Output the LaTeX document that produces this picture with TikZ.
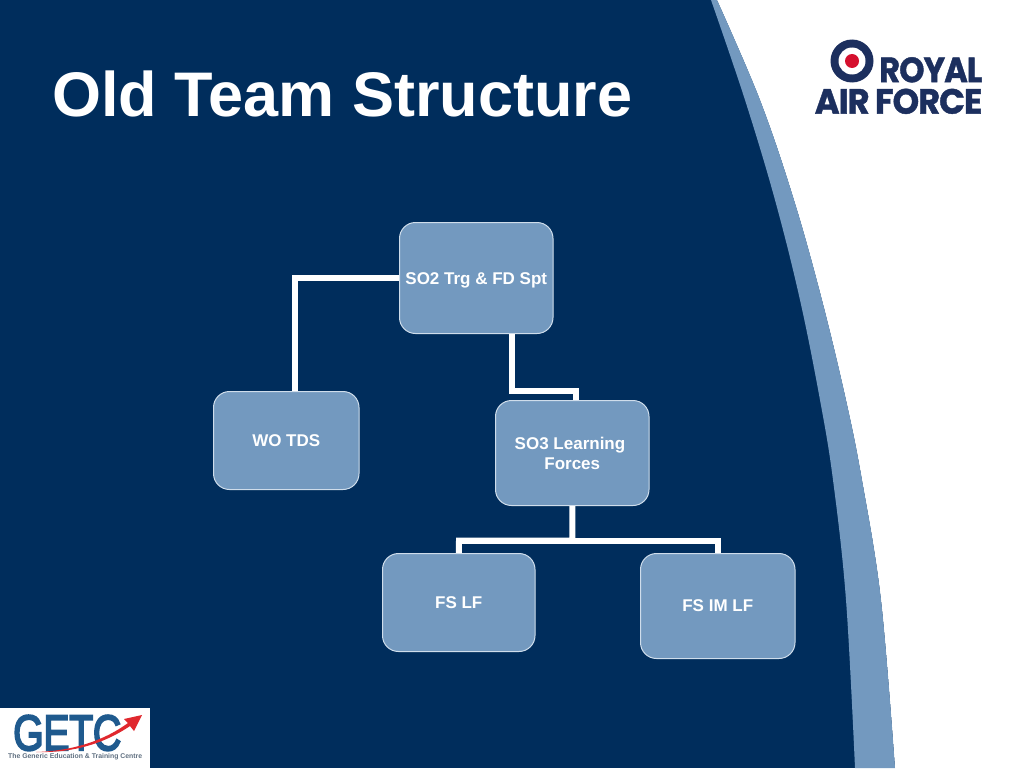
\documentclass[tikz,border=0pt]{standalone}
\usepackage{fontspec}
\usepackage{graphicx}
\setmainfont{Liberation Sans}
\newfontfamily\logofont[LetterSpace=-3,FakeBold=1.2]{Poppins}
\newfontfamily\getcfont[FakeBold=4,LetterSpace=-1]{Liberation Sans}
\definecolor{navybg}{HTML}{002D5C}
\definecolor{steel}{HTML}{7399BF}
\definecolor{edgepale}{HTML}{CFDDEB}
\definecolor{rafnavy}{HTML}{1C2F5E}
\definecolor{rafred}{HTML}{D5102E}
\definecolor{getcblue}{HTML}{1F5A8E}
\definecolor{getcgrey}{HTML}{5F6F80}
\definecolor{getcred}{HTML}{E0282E}
\tikzset{
  x=1pt,y=-1pt,
  orgbox/.style={draw=edgepale,line width=1pt,fill=steel,rounded corners=16pt,text=white,
    font=\fontsize{17}{20}\selectfont\bfseries,align=center,inner sep=0pt,anchor=north west},
  wire/.style={draw=white,line width=6pt,line cap=butt,line join=miter},
  titletext/.style={text=white,font=\fontsize{63}{70}\selectfont\bfseries,inner sep=0pt,anchor=base west},
  logotext/.style={text=rafnavy,inner sep=0pt,anchor=north west},
}
\begin{document}
\begin{tikzpicture}
\useasboundingbox (0,0) rectangle (1024,768);
\fill[navybg] (0,0) rectangle (1024,768);
% white region with steel band
\fill[white] plot[smooth,tension=0.6] coordinates {(717,0) (760,100) (794,200) (822,300) (846,400) (862,480) (881,600) (895,768)} -- (1024,768) -- (1024,0) -- cycle;
\fill[steel] plot[smooth,tension=0.6] coordinates {(711,0) (745,100) (775,200) (800,300) (820,400) (833,480) (846,600) (855,768)}
  -- plot[smooth,tension=0.6] coordinates {(895,768) (881,600) (862,480) (846,400) (822,300) (794,200) (760,100) (717,0)} -- cycle;
\node[titletext] (title) at (52,116) {Old Team Structure};
% boxes
\node[orgbox,minimum width=153.5pt,minimum height=111pt] (so2) at (399,222) {\raisebox{-2pt}[\height][\depth]{SO2 Trg \& FD Spt}};
\node[orgbox,minimum width=145.5pt,minimum height=98pt] (wo) at (213,391) {WO TDS};
\node[orgbox,minimum width=153.5pt,minimum height=105pt] (so3) at (495,400) {\mbox{SO3 Learning\hspace{4.5pt}}\\Forces};
\node[orgbox,minimum width=152.5pt,minimum height=98pt] (fslf) at (382,553) {FS LF};
\node[orgbox,minimum width=154.5pt,minimum height=105pt] (fsim) at (640,553) {FS IM LF};
% connectors
\draw[wire] (so2.west) -| ([xshift=8.5pt]wo.north);
\draw[wire] ([xshift=35.5pt]so2.south) |- (512.5,390.5) -| ([xshift=4pt]so3.north);
\draw[wire] (so3.south) |- (459,540.5) -- (fslf.north);
\draw[wire] (459,540.5) -| ([xshift=0.5pt]fsim.north);
% RAF logo
\fill[rafnavy] (852,61) circle (21.5);
\fill[white] (852,61) circle (13.5);
\fill[rafred] (852,61) circle (7);
\node[logotext] (royal) at (879,57) {\resizebox{103pt}{25pt}{\logofont\bfseries ROYAL}};
\node[logotext] (airforce) at (814.5,88.5) {\resizebox{167.5pt}{25pt}{\logofont\bfseries\spaceskip=0.16em AIR FORCE}};
% GETC logo
\fill[white] (0,708) rectangle (150,768);
\node[inner sep=0pt,anchor=north west,text=getcblue] (getc) at (13,715) {\resizebox{108pt}{35pt}{\getcfont GETC}};
\fill[getcred] (36,752) .. controls (70,751) and (102,742) .. (128,723) -- (124,719) -- (142,715) -- (134,731) -- (130,726) .. controls (102,745) and (70,753) .. (36,752) -- cycle;
\node[inner sep=0pt,anchor=north west,text=getcgrey] (getcsub) at (8,753) {\resizebox{134pt}{!}{\bfseries The Generic Education \& Training Centre}};
\end{tikzpicture}
\end{document}
